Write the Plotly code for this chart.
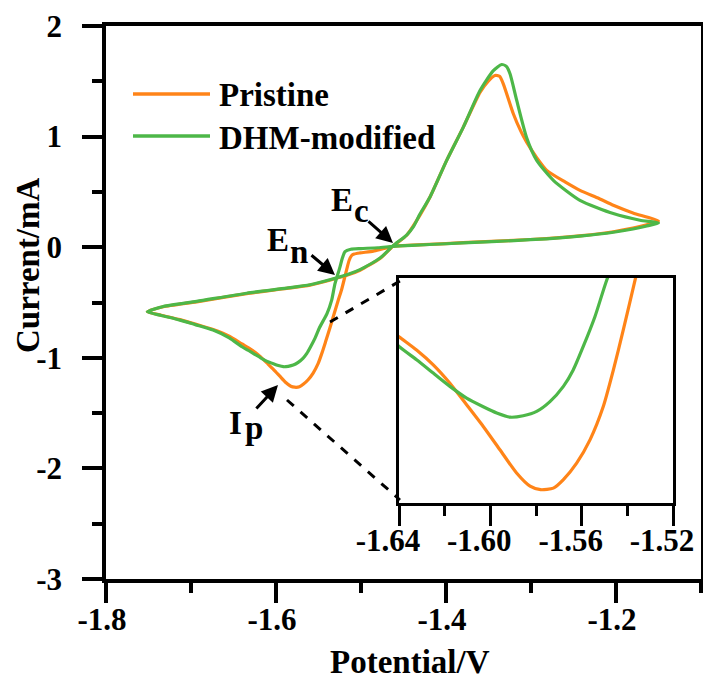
import plotly.graph_objects as go

# ---------------- data ----------------
pristine_v = [-1.150, -1.165, -1.180, -1.203, -1.240, -1.282, -1.320, -1.360, -1.400, -1.440,
              -1.462, -1.475, -1.4855, -1.5012, -1.508, -1.511, -1.514, -1.5168, -1.5227, -1.5267,
              -1.5366, -1.5418, -1.5461, -1.5505, -1.5563, -1.5622, -1.568, -1.5724, -1.578,
              -1.5826, -1.5885, -1.5958, -1.6031, -1.6104, -1.6177, -1.625, -1.6323,
              -1.640, -1.655, -1.674, -1.695, -1.713, -1.735, -1.7514,
              -1.7326, -1.6933, -1.6345, -1.5874, -1.560, -1.5326, -1.515, -1.5012, -1.4776,
              -1.462, -1.4463, -1.4306, -1.4188, -1.3992, -1.3796, -1.360, -1.3505, -1.3424, -1.337,
              -1.3326, -1.3208, -1.312, -1.3051, -1.2933, -1.2815, -1.260, -1.2424, -1.220, -1.2032,
              -1.180, -1.1639, -1.150]
pristine_i = [0.237, 0.200, 0.172, 0.140, 0.105, 0.078, 0.062, 0.048, 0.033, 0.018,
              0.008, -0.015, -0.035, -0.052, -0.062, -0.075, -0.120, -0.200, -0.380, -0.478,
              -0.730, -0.858, -0.960, -1.053, -1.138, -1.198, -1.240, -1.262, -1.266,
              -1.257, -1.2234, -1.164, -1.1045, -1.049, -0.994, -0.947, -0.909,
              -0.875, -0.805, -0.745, -0.695, -0.655, -0.615, -0.584,
              -0.539, -0.494, -0.420, -0.373, -0.343, -0.290, -0.250, -0.208, -0.102,
              0.012, 0.108, 0.290, 0.454, 0.785, 1.086, 1.400, 1.500, 1.552, 1.545,
              1.477, 1.207, 1.050, 0.950, 0.810, 0.695, 0.590, 0.514, 0.440, 0.379,
              0.310, 0.273, 0.237]

dhm_v = [-1.150, -1.165, -1.180, -1.203, -1.240, -1.282, -1.320, -1.360, -1.400, -1.440,
         -1.462, -1.480, -1.500, -1.512, -1.5188, -1.522, -1.5247, -1.5306, -1.5345, -1.540,
         -1.549, -1.5542, -1.5593, -1.5637, -1.568, -1.5739, -1.5797, -1.5856, -1.5914,
         -1.5972, -1.6031, -1.6104, -1.6177, -1.625, -1.6323, -1.640, -1.655,
         -1.674, -1.695, -1.713, -1.735, -1.7514,
         -1.7326, -1.6933, -1.6345, -1.5874, -1.560, -1.5326, -1.515, -1.5012, -1.4776,
         -1.462, -1.4463, -1.4385, -1.4306, -1.4188, -1.3992, -1.3796, -1.360, -1.3443, -1.3345,
         -1.329, -1.3247, -1.3168, -1.3051, -1.2933, -1.2737, -1.2424, -1.2032, -1.1718, -1.150]
dhm_i = [0.219, 0.190, 0.165, 0.135, 0.102, 0.076, 0.060, 0.046, 0.031, 0.017,
         0.008, -0.005, -0.012, -0.018, -0.040, -0.100, -0.178, -0.330, -0.478, -0.600,
         -0.730, -0.824, -0.900, -0.960, -1.002, -1.041, -1.066, -1.077, -1.0806,
         -1.070, -1.054, -1.032, -1.002, -0.968, -0.934, -0.900, -0.820,
         -0.749, -0.700, -0.659, -0.617, -0.584,
         -0.536, -0.490, -0.416, -0.370, -0.340, -0.285, -0.245, -0.203, -0.098,
         0.015, 0.110, 0.183, 0.300, 0.454, 0.785, 1.086, 1.417, 1.597, 1.652,
         1.635, 1.568, 1.327, 0.990, 0.785, 0.605, 0.424, 0.304, 0.244, 0.219]

series_names = ["Pristine", "DHM-modified"]

x_tickvals = [-1.8, -1.6, -1.4, -1.2]
x_ticktext = ["-1.8", "-1.6", "-1.4", "-1.2"]
x_minor = [-1.7, -1.5, -1.3, -1.1]
y_tickvals = [-3, -2, -1, 0, 1, 2]
y_ticktext = ["-3", "-2", "-1", "0", "1", "2"]
y_minor = [-2.5, -1.5, -0.5, 0.5, 1.5]
inset_tickvals = [-1.64, -1.60, -1.56, -1.52]
inset_ticktext = ["-1.64", "-1.60", "-1.56", "-1.52"]
inset_minor = [-1.62, -1.58, -1.54]

# ---------------- style ----------------
ORANGE = "#FF8418"
GREEN = "#4DB748"
FONT = "Liberation Serif"
W, H = 703, 682
L, R, T, B = 106, 2, 26, 103
PW, PH = W - L - R, H - T - B


def px(x):
    return (x - L) / PW


def py(y):
    return (H - B - y) / PH


fig = go.Figure()
for xa, ya in [("x", "y"), ("x2", "y2")]:
    for v, i, name, col in [(pristine_v, pristine_i, series_names[0], ORANGE),
                            (dhm_v, dhm_i, series_names[1], GREEN)]:
        fig.add_trace(go.Scatter(x=v, y=i, mode="lines", name=name, showlegend=False,
                                 line=dict(color=col, width=3.2, shape="spline", smoothing=0.6),
                                 xaxis=xa, yaxis=ya))


def tf():
    return dict(family=FONT, size=31, color="black", weight=700)


common = dict(showgrid=False, zeroline=False, showline=True, linecolor="black",
              ticks="outside", tickcolor="black", automargin=False, ticklabeloverflow="allow")

fig.update_layout(
    width=W, height=H, margin=dict(l=L, r=R, t=T, b=B, autoexpand=False),
    paper_bgcolor="white", plot_bgcolor="white", showlegend=False,
    font=dict(family=FONT, color="black", weight=700),
    xaxis=dict(range=[-1.8, -1.1], domain=[0, 1], anchor="y", mirror=True, linewidth=3.5,
               tickmode="array", tickvals=x_tickvals, ticktext=x_ticktext,
               ticklen=20, tickwidth=3.5, tickfont=tf(), ticklabelstandoff=-10,
               ticklabelshift=-4,
               minor=dict(tickmode="array", tickvals=x_minor, ticklen=10, tickwidth=3.5,
                          ticks="outside", tickcolor="black"), **common),
    yaxis=dict(range=[-3, 2], domain=[0, 1], anchor="x", mirror=True, linewidth=3.5,
               tickmode="array", tickvals=y_tickvals, ticktext=y_ticktext,
               ticklen=20, tickwidth=3.5, tickfont=tf(), ticklabelstandoff=14,
               minor=dict(tickmode="array", tickvals=y_minor, ticklen=10, tickwidth=3.5,
                          ticks="outside", tickcolor="black"), **common),
    xaxis2=dict(range=[-1.64, -1.52], domain=[px(399), px(673)], anchor="y2", mirror=True,
                linewidth=2.5, tickmode="array", tickvals=inset_tickvals, ticktext=inset_ticktext,
                ticklen=20, tickwidth=3, tickfont=tf(), ticklabelstandoff=-12,
                ticklabelshift=-11,
                minor=dict(tickmode="array", tickvals=inset_minor, ticklen=10, tickwidth=3,
                           ticks="outside", tickcolor="black"), **common),
    yaxis2=dict(range=[-1.30, -0.725], domain=[py(503), py(278)], anchor="x2", mirror=True,
                linewidth=2.5, showgrid=False, zeroline=False, showline=True, linecolor="black",
                ticks="", showticklabels=False, automargin=False),
)

shapes = []
# inset background (drawn below traces)
shapes.append(dict(type="rect", xref="paper", yref="paper", x0=px(399), x1=px(673),
                   y0=py(503), y1=py(278), fillcolor="white", line=dict(width=0), layer="below"))
# dashed zoom lines
shapes.append(dict(type="line", xref="paper", yref="paper", x0=px(330), y0=py(322),
                   x1=px(400), y1=py(281), line=dict(color="black", width=3, dash="dash")))
shapes.append(dict(type="line", xref="paper", yref="paper", x0=px(287), y0=py(400),
                   x1=px(400), y1=py(500), line=dict(color="black", width=3, dash="dash")))
# manual legend lines
shapes.append(dict(type="line", xref="paper", yref="paper", x0=px(133), x1=px(210),
                   y0=py(94), y1=py(94), line=dict(color=ORANGE, width=3.5)))
shapes.append(dict(type="line", xref="paper", yref="paper", x0=px(133), x1=px(210),
                   y0=py(136), y1=py(136), line=dict(color=GREEN, width=3.5)))
fig.update_layout(shapes=shapes)

ann = []


def text(x, y, t, size, xanchor="center", yanchor="middle", angle=0):
    ann.append(dict(xref="paper", yref="paper", x=px(x), y=py(y), text="<b>%s</b>" % t,
                    showarrow=False, font=dict(family=FONT, size=size, color="black"),
                    xanchor=xanchor, yanchor=yanchor, textangle=angle, borderpad=0))


def arrow(hx, hy, tx, ty):
    ann.append(dict(xref="paper", yref="paper", x=px(hx), y=py(hy), ax=tx - hx, ay=ty - hy,
                    text="", showarrow=True, arrowhead=2, arrowsize=1.1, arrowwidth=3,
                    arrowcolor="black", standoff=0))


# legend text
text(218, 95, series_names[0], 33, xanchor="left")
text(218, 138, series_names[1], 33, xanchor="left")
# axis titles
text(410, 681, "Potential/V", 33, yanchor="bottom")
text(28, 265, "Current/mA", 33, angle=-90)
# labels
text(278, 240, "E", 33)
text(298.5, 252, "n", 33)
text(342, 200, "E", 33)
text(361, 211, "c", 33)
text(235, 423, "I", 33)
text(253.5, 428, "p", 33)
arrow(335, 275, 310, 254)
arrow(393, 243, 367, 220)
arrow(278, 385, 255, 410)
fig.update_layout(annotations=ann)

fig.write_html("out.html")
